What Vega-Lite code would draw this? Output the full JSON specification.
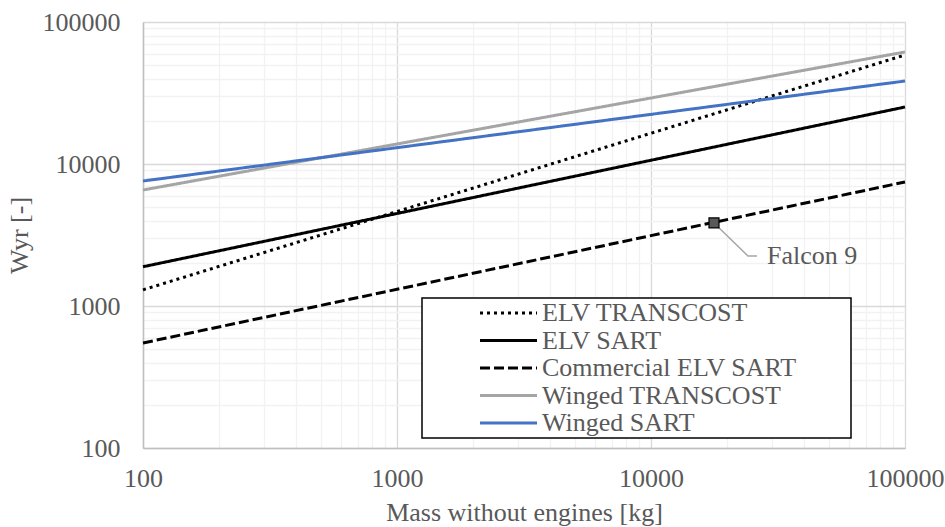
{
  "$schema": "https://vega.github.io/schema/vega-lite/v6.json",
  "width": 762,
  "height": 426,
  "autosize": {"type": "none"},
  "padding": {"left": 143, "top": 22, "right": 40, "bottom": 79},
  "background": "white",
  "config": {
    "font": "Liberation Serif",
    "view": {"stroke": "#d9d9d9", "strokeWidth": 1},
    "legend": {"strokeWidth": 1.5},
    "axis": {
      "labelFont": "Liberation Serif",
      "titleFont": "Liberation Serif",
      "labelFontSize": 26,
      "titleFontSize": 26,
      "labelColor": "#595959",
      "titleColor": "#595959",
      "titleFontWeight": "normal",
      "ticks": false,
      "domainColor": "#bfbfbf",
      "domainWidth": 1.5,
      "gridColor": {"condition": {"test": "indexof([100,1000,10000,100000], datum.value) >= 0", "value": "#d9d9d9"}, "value": "#f2f2f2"},
      "gridWidth": 1.3
    }
  },
  "datasets": {
    "series": [
      {"series": "ELV TRANSCOST", "x": 100, "y": 1300},
      {"series": "ELV TRANSCOST", "x": 100000, "y": 58600},
      {"series": "ELV SART", "x": 100, "y": 1890},
      {"series": "ELV SART", "x": 100000, "y": 25200},
      {"series": "Commercial ELV SART", "x": 100, "y": 549},
      {"series": "Commercial ELV SART", "x": 100000, "y": 7470},
      {"series": "Winged TRANSCOST", "x": 100, "y": 6560},
      {"series": "Winged TRANSCOST", "x": 100000, "y": 61500},
      {"series": "Winged SART", "x": 100, "y": 7590},
      {"series": "Winged SART", "x": 100000, "y": 38400}
    ],
    "leader": [
      {"x": 17700, "y": 3844, "o": 0},
      {"x": 24100, "y": 2250, "o": 1},
      {"x": 26150, "y": 2250, "o": 2}
    ],
    "falcon": [
      {"x": 17700, "y": 3844, "label": "Falcon 9", "lx": 28600, "ly": 2250}
    ]
  },
  "layer": [
    {
      "data": {"name": "series"},
      "mark": {"type": "line", "strokeWidth": 3, "strokeCap": "butt"},
      "encoding": {
        "x": {
          "field": "x", "type": "quantitative",
          "scale": {"type": "log", "domain": [100, 100000], "nice": false},
          "axis": {
            "title": "Mass without engines [kg]",
            "values": [100,200,300,400,500,600,700,800,900,1000,2000,3000,4000,5000,6000,7000,8000,9000,10000,20000,30000,40000,50000,60000,70000,80000,90000,100000],
            "labelExpr": "indexof([100,1000,10000,100000], datum.value) >= 0 ? format(datum.value, 'd') : ''",
            "labelPadding": 17,
            "titlePadding": 8,
            "labelFlush": false,
            "labelOverlap": false
          }
        },
        "y": {
          "field": "y", "type": "quantitative",
          "scale": {"type": "log", "domain": [100, 100000], "nice": false},
          "axis": {
            "title": "Wyr [-]",
            "values": [100,200,300,400,500,600,700,800,900,1000,2000,3000,4000,5000,6000,7000,8000,9000,10000,20000,30000,40000,50000,60000,70000,80000,90000,100000],
            "labelExpr": "indexof([100,1000,10000,100000], datum.value) >= 0 ? format(datum.value, 'd') : ''",
            "labelPadding": 23,
            "titlePadding": 10,
            "labelFlush": false,
            "labelOverlap": false
          }
        },
        "color": {
          "field": "series", "type": "nominal",
          "scale": {
            "domain": ["ELV TRANSCOST", "ELV SART", "Commercial ELV SART", "Winged TRANSCOST", "Winged SART"],
            "range": ["#000000", "#000000", "#000000", "#a5a5a5", "#4472c4"]
          },
          "legend": {
            "title": null,
            "orient": "none",
            "legendX": 279,
            "legendY": 276,
            "labelFont": "Liberation Serif",
            "labelFontSize": 26,
            "labelColor": "#595959",
            "labelLimit": 500,
            "labelExpr": "datum.label + '\u00a0\u00a0\u00a0\u00a0\u00a0\u00a0\u00a0\u00a0\u200b'",
            "symbolType": "M-3,0H3",
            "symbolSize": 361,
            "symbolStrokeWidth": 3,
            "symbolOffset": 71.5,
            "labelOffset": 20.5,
            "rowPadding": 1.5,
            "padding": 2,
            "strokeColor": "#000000",
            "fillColor": "#ffffff"
          }
        },
        "strokeDash": {
          "field": "series", "type": "nominal",
          "scale": {
            "domain": ["ELV TRANSCOST", "ELV SART", "Commercial ELV SART", "Winged TRANSCOST", "Winged SART"],
            "range": [[3, 4], [1, 0], [10, 4], [1, 0], [1, 0]]
          }
        }
      }
    },
    {
      "data": {"name": "leader"},
      "mark": {"type": "line", "color": "#a6a6a6", "strokeWidth": 1.5},
      "encoding": {
        "x": {"field": "x", "type": "quantitative"},
        "y": {"field": "y", "type": "quantitative"},
        "order": {"field": "o"}
      }
    },
    {
      "data": {"name": "falcon"},
      "mark": {"type": "point", "shape": "square", "filled": true, "fill": "#595959", "stroke": "#000000", "strokeWidth": 1.2, "size": 100, "opacity": 1},
      "encoding": {
        "x": {"field": "x", "type": "quantitative"},
        "y": {"field": "y", "type": "quantitative"}
      }
    },
    {
      "data": {"name": "falcon"},
      "mark": {"type": "text", "align": "left", "baseline": "middle", "font": "Liberation Serif", "fontSize": 26, "color": "#595959"},
      "encoding": {
        "x": {"field": "lx", "type": "quantitative"},
        "y": {"field": "ly", "type": "quantitative"},
        "text": {"field": "label"}
      }
    }
  ]
}
